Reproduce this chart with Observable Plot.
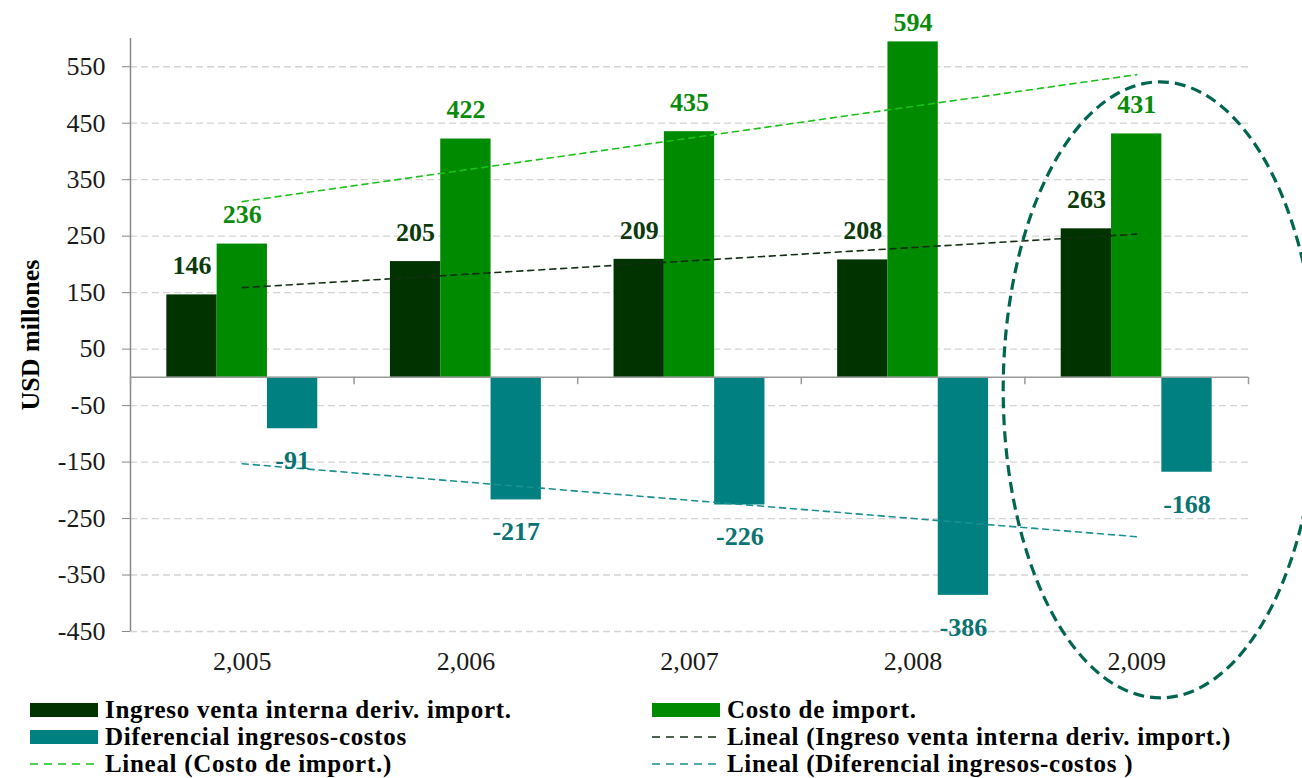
<!DOCTYPE html>
<html>
<head>
<meta charset="utf-8">
<script src="https://cdn.jsdelivr.net/npm/d3@7"></script>
<script src="https://cdn.jsdelivr.net/npm/@observablehq/plot@0.6"></script>
<style>
  body { margin: 0; background: #fff; font-family: "Liberation Serif", "DejaVu Serif", serif; }
  #chart svg { display: block; overflow: visible; font-family: "Liberation Serif", serif; }
  #chart svg g[aria-label="y-axis tick label"], #chart svg g[aria-label="x-axis tick label"] { font-size: 26px; fill: #1a1a1a; }
  #legend { position: relative; height: 78px; font-weight: bold; font-size: 25px; letter-spacing: 0.7px; color: #000; }
  .item { position: absolute; display: flex; align-items: center; height: 26px; white-space: nowrap; }
  .item svg { margin-right: 7px; }
</style>
</head>
<body>
<div id="chart"></div>
<div id="legend"></div>
<script>
// ---- data ----
const years = [2005, 2006, 2007, 2008, 2009];
const ingreso = [146, 205, 209, 208, 263];
const costo = [236, 422, 435, 594, 431];
const diferencial = [-91, -217, -226, -386, -168];
const yTicks = [-450, -350, -250, -150, -50, 50, 150, 250, 350, 450, 550];
const seriesNames = [
  "Ingreso venta interna deriv. import.",
  "Costo de import.",
  "Diferencial ingresos-costos"
];

// ---- styling ----
const barColors = ["#003300", "#008a00", "#008080"];
const labelColors = ["#0b3a0b", "#0a8a0a", "#0a7373"];
const trendColors = ["#142e14", "#19c219", "#1a9090"];
const offsets = [-0.225, 0, 0.225];
const barW = 0.225;
const yMax = 600;

const seriesValues = [ingreso, costo, diferencial];
const rows = [];
seriesValues.forEach((vals, s) => vals.forEach((v, i) => rows.push({i, s, year: years[i], value: v})));

// linear trend (least squares over category index), as Excel "Lineal"
function trend(vals, s) {
  const xs = vals.map((_, i) => i);
  const mx = d3.mean(xs), my = d3.mean(vals);
  const slope = d3.sum(xs, (x, k) => (x - mx) * (vals[k] - my)) / d3.sum(xs, x => (x - mx) ** 2);
  const b = my - slope * mx;
  return xs.map(x => ({i: x, s, fit: b + slope * x}));
}
const trends = seriesValues.map((v, s) => trend(v, s));

const bounds = years.map((_, i) => i - 0.5).concat([years.length - 0.5]);

const ellipse = (index, scales, values, dims) => {
  const svg = d3.create("svg:g");
  const cx = scales.x(years.length - 1) + 24;
  const cy = scales.y(-23);
  svg.append("ellipse")
    .attr("cx", cx).attr("cy", cy)
    .attr("rx", 157).attr("ry", 308)
    .attr("fill", "none").attr("stroke", "#006650")
    .attr("stroke-width", 3.2).attr("stroke-dasharray", "11,6");
  return svg.node();
};

const labelOpts = {x: d => d.i + offsets[d.s], y: "value", text: d => String(d.value),
  fill: d => labelColors[d.s], fontWeight: "bold", fontSize: 26};

const plot = Plot.plot({
  width: 1302,
  height: 700,
  marginLeft: 130,
  marginRight: 54,
  marginTop: 38,
  marginBottom: 69,
  style: {fontFamily: "'Liberation Serif', serif", fontSize: "24px", color: "#222", overflow: "visible"},
  x: {type: "linear", domain: [-0.5, years.length - 0.5]},
  y: {domain: [-450, yMax]},
  marks: [
    Plot.gridY(yTicks, {stroke: "#d4d4d4", strokeOpacity: 1, strokeDasharray: "7,4", strokeWidth: 1.3}),
    Plot.axisY(yTicks, {tickSize: 8, tickPadding: 17, fontSize: 26, stroke: "#888", label: null, tickFormat: d => String(d)}),
    Plot.ruleX([-0.5], {y1: -450, y2: yMax, stroke: "#888", strokeWidth: 1.5}),
    Plot.axisX(years.map((_, i) => i), {tickSize: 0, tickPadding: 20, fontSize: 26, label: null,
      tickFormat: i => d3.format(",")(years[i])}),
    Plot.rectY(rows, {
      x1: d => d.i + offsets[d.s] - barW / 2,
      x2: d => d.i + offsets[d.s] + barW / 2,
      y: "value",
      fill: d => barColors[d.s]
    }),
    Plot.ruleY([0], {stroke: "#999", strokeWidth: 1.5}),
    Plot.ruleX(bounds, {y1: 0, y2: -13, stroke: "#999", strokeWidth: 1.5}),
    ...trends.map((t, s) => Plot.line(t, {x: "i", y: "fit", stroke: trendColors[s], strokeWidth: 1.6, strokeDasharray: "6,5"})),
    Plot.text(rows.filter(d => d.value >= 0 && d.value < yMax - 40), {...labelOpts, dy: -29}),
    Plot.text(rows.filter(d => d.value >= yMax - 40), {...labelOpts, dy: -19}),
    Plot.text(rows.filter(d => d.value < 0), {...labelOpts, dy: 32}),
    Plot.text(["USD millones"], {
      frameAnchor: "left", dx: -100, rotate: -90, textAnchor: "middle",
      fontWeight: "bold", fontSize: 26, fill: "#000"
    }),
    ellipse
  ]
});
document.getElementById("chart").appendChild(plot);

// ---- legend ----
const legendItems = [
  {label: seriesNames[0], type: "bar", color: barColors[0], col: 0, row: 0},
  {label: seriesNames[1], type: "bar", color: barColors[1], col: 1, row: 0},
  {label: seriesNames[2], type: "bar", color: barColors[2], col: 0, row: 1},
  {label: "Lineal (" + seriesNames[0] + ")", type: "dash", color: trendColors[0], col: 1, row: 1},
  {label: "Lineal (" + seriesNames[1] + ")", type: "dash", color: trendColors[1], col: 0, row: 2},
  {label: "Lineal (" + seriesNames[2] + " )", type: "dash", color: trendColors[2], col: 1, row: 2}
];
const colX = [30, 652];
const legend = d3.select("#legend");
legendItems.forEach(it => {
  const div = legend.append("div").attr("class", "item")
    .style("left", colX[it.col] + "px").style("top", (it.row * 27 - 3) + "px");
  const sw = div.append("svg").attr("width", 68).attr("height", 16);
  if (it.type === "bar") sw.append("rect").attr("x", 0).attr("y", 1).attr("width", 68).attr("height", 14).attr("fill", it.color);
  else sw.append("line").attr("x1", 0).attr("x2", 68).attr("y1", 8).attr("y2", 8)
    .attr("stroke", it.color).attr("stroke-width", 1.6).attr("stroke-dasharray", "8,6");
  div.append("span").text(it.label);
});
</script>
</body>
</html>
